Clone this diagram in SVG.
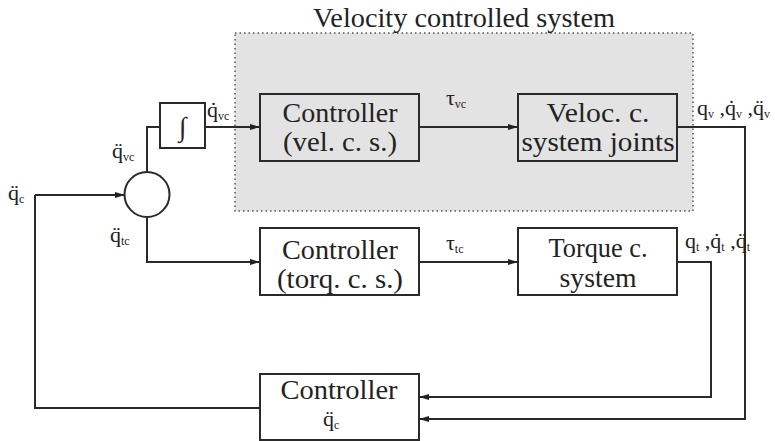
<svg xmlns="http://www.w3.org/2000/svg" width="775" height="441" viewBox="0 0 775 441">
<defs>
<marker id="ah" viewBox="0 0 10 8" refX="10" refY="4" markerWidth="10" markerHeight="8" markerUnits="userSpaceOnUse" orient="auto">
<path d="M0,1 L10,4 L0,7 Z" fill="#222"/>
</marker>
<style>
.box{fill:none;stroke:#2a2a2a;stroke-width:2}
.wbox{fill:#fff;stroke:#2a2a2a;stroke-width:2}
.line{fill:none;stroke:#2a2a2a;stroke-width:2}
.arr{fill:none;stroke:#2a2a2a;stroke-width:2;marker-end:url(#ah)}
.t{font-family:"Liberation Serif","Times New Roman",serif;font-size:27px;fill:#222;text-anchor:middle}
.m{font-family:"Liberation Serif","DejaVu Serif",serif;font-size:22px;fill:#222}
.s{font-size:12px}
</style>
</defs>
<rect width="775" height="441" fill="#fff"/>
<g id="region">
<rect x="235" y="33" width="458" height="178" fill="#e3e3e3" stroke="#555" stroke-width="1.5" stroke-dasharray="1.5 3"/>
<text x="464" y="27" class="t" font-size="25" textLength="302" lengthAdjust="spacingAndGlyphs">Velocity controlled system</text>
</g>
<g id="connectors">
<path class="arr" d="M35,195 H125"/>
<path class="line" d="M147,172 V127 H160"/>
<path class="arr" d="M205,127 H260"/>
<path class="arr" d="M419,127 H518"/>
<path class="line" d="M677,127 H745 V419 H428"/>
<path class="arr" d="M430,419 H419"/>
<path class="arr" d="M147,217 V262 H260"/>
<path class="arr" d="M419,262 H518"/>
<path class="line" d="M677,262 H711 V397 H428"/>
<path class="arr" d="M430,397 H419"/>
<path class="line" d="M260,408 H35 V195"/>
</g>
<g id="sum">
<circle cx="147" cy="194.5" r="22.5" fill="#fff" stroke="#2a2a2a" stroke-width="2"/>
</g>
<g id="integrator">
<rect class="wbox" x="160" y="103" width="45" height="45"/>
<text x="182.5" y="136" class="t" font-size="30">∫</text>
</g>
<g id="ctrl-vel">
<rect class="box" x="260" y="94" width="159" height="67"/>
<text x="340" y="122" class="t" textLength="115" lengthAdjust="spacingAndGlyphs">Controller</text>
<text x="340" y="151" class="t" textLength="114" lengthAdjust="spacingAndGlyphs">(vel. c. s.)</text>
</g>
<g id="veloc-sys">
<rect class="box" x="518" y="94" width="159" height="67"/>
<text x="598" y="122" class="t" textLength="103" lengthAdjust="spacingAndGlyphs">Veloc. c.</text>
<text x="598" y="151" class="t" textLength="153" lengthAdjust="spacingAndGlyphs">system joints</text>
</g>
<g id="ctrl-torq">
<rect class="wbox" x="260" y="228" width="159" height="67"/>
<text x="340" y="259" class="t" textLength="116" lengthAdjust="spacingAndGlyphs">Controller</text>
<text x="340" y="288" class="t" textLength="126" lengthAdjust="spacingAndGlyphs">(torq. c. s.)</text>
</g>
<g id="torque-sys">
<rect class="wbox" x="518" y="228" width="159" height="67"/>
<text x="598" y="257" class="t" textLength="99" lengthAdjust="spacingAndGlyphs">Torque c.</text>
<text x="598" y="287" class="t" textLength="77" lengthAdjust="spacingAndGlyphs">system</text>
</g>
<g id="ctrl-acc">
<rect class="wbox" x="260" y="374" width="159" height="66"/>
<text x="339" y="399" class="t" textLength="117" lengthAdjust="spacingAndGlyphs">Controller</text>
<text x="323" y="426" class="m">q̈<tspan class="s" dy="3">c</tspan></text>
</g>
<g id="labels">
<text x="8" y="200" class="m">q̈<tspan class="s" dy="3">c</tspan></text>
<text x="112" y="158" class="m">q̈<tspan class="s" dy="3">vc</tspan></text>
<text x="110" y="242" class="m">q̈<tspan class="s" dy="3">tc</tspan></text>
<text x="207" y="117" class="m">q̇<tspan class="s" dy="3">vc</tspan></text>
<text x="446" y="105" class="m">τ<tspan class="s" dy="3">vc</tspan></text>
<text x="446" y="250" class="m">τ<tspan class="s" dy="3">tc</tspan></text>
<text x="697" y="115" class="m">q<tspan class="s" dy="3">v</tspan><tspan dy="-3"> ,q̇</tspan><tspan class="s" dy="3">v</tspan><tspan dy="-3"> ,q̈</tspan><tspan class="s" dy="3">v</tspan></text>
<text x="685" y="248" class="m">q<tspan class="s" dy="3">t</tspan><tspan dy="-3"> ,q̇</tspan><tspan class="s" dy="3">t</tspan><tspan dy="-3"> ,q̈</tspan><tspan class="s" dy="3">t</tspan></text>
</g>
</svg>
